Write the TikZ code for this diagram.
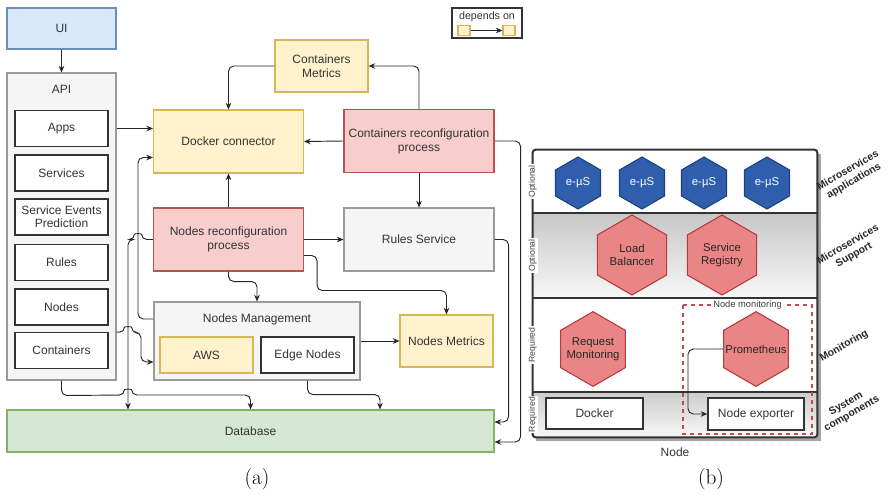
\documentclass[tikz,border=0pt]{standalone}
\usepackage{fontspec}
\usetikzlibrary{arrows.meta,calc,shapes.geometric}
\newfontfamily\diafont{Liberation Sans}
\definecolor{ylwfill}{HTML}{FFF2CC}
\definecolor{ylwdraw}{HTML}{D6B656}
\definecolor{redfill}{HTML}{F8CECC}
\definecolor{reddraw}{HTML}{B85450}
\definecolor{grayfill}{HTML}{F5F5F5}
\definecolor{graydraw}{HTML}{9A9A9A}
\definecolor{bluefill}{HTML}{DAE8FC}
\definecolor{bluedraw}{HTML}{6C8EBF}
\definecolor{grnfill}{HTML}{D5E8D4}
\definecolor{grndraw}{HTML}{82B366}
\definecolor{usfill}{HTML}{2F5EAD}
\definecolor{usdraw}{HTML}{1F417E}
\definecolor{hexrfill}{HTML}{E98585}
\definecolor{hexrdraw}{HTML}{B5393D}
\definecolor{frame}{HTML}{333333}
\begin{document}
\begin{tikzpicture}[
    x=0.75pt, y=-0.75pt,
    >={Stealth[length=5pt,width=4.2pt]},
    box/.style={
        rectangle,
        draw,
        line width=0.8pt,
        align=center,
        inner sep=2pt,
        text=black!80,
        font=\diafont\fontsize{9}{10.5}\selectfont
    },
    yellowbox/.style={box, draw=ylwdraw, fill=ylwfill},
    redbox/.style={box, draw=reddraw, fill=redfill},
    graybox/.style={box, draw=graydraw, fill=grayfill},
    itembox/.style={
        box,
        draw=black!80,
        fill=white,
        minimum width=69.75pt,
        minimum height=27pt
    },
    arrow/.style={
        ->,
        draw=black!85,
        line width=0.7pt,
        rounded corners=4pt
    },
    layer/.style={
        rectangle,
        inner sep=0pt,
        minimum width=213pt
    },
    hexagon/.style={
        regular polygon,
        regular polygon sides=6,
        shape border rotate=30,
        inner sep=0pt,
        line width=0.8pt
    },
    hexlbl/.style={
        align=center,
        inner sep=0pt,
        text=black!85,
        font=\diafont\fontsize{8.5}{10}\selectfont
    },
    usvc/.style={
        hexagon,
        draw=usdraw,
        fill=usfill,
        minimum size=39pt,
        label={[hexlbl, text=white]center:e-µS}
    },
    redhex/.style={hexagon, draw=hexrdraw, fill=hexrfill},
    sidelbl/.style={
        rotate=90,
        fill=white,
        inner sep=1pt,
        text=black!75,
        font=\diafont\fontsize{6.5}{7}\selectfont
    },
    layerlbl/.style={
        rotate=30,
        align=center,
        inner sep=0pt,
        text=black!85,
        font=\diafont\bfseries\fontsize{7.8}{8.8}\selectfont
    }
]
\useasboundingbox (0,0) rectangle (891,495);

% (a) client side
\node[box, draw=bluedraw, fill=bluefill, minimum width=81.75pt, minimum height=30.75pt] (ui) at (61.5,28.5) {UI};
\node[graybox, minimum width=81.75pt, minimum height=230.25pt] (api) at (61.5,226.5) {};
\node[box, draw=none] (apilbl) at (61.5,89) {API};
\node[itembox] (apps) at (61.5,128.5) {Apps};
\node[itembox] (services) at (61.5,173) {Services};
\node[itembox] (sep) at (61.5,217) {Service Events\\[-1pt]Prediction};
\node[itembox] (rules) at (61.5,262.5) {Rules};
\node[itembox] (nodes) at (61.5,307) {Nodes};
\node[itembox] (containers) at (61.5,350.5) {Containers};

% (a) processes
\node[yellowbox, minimum width=112.5pt, minimum height=47.25pt] (docker) at (228.5,141.5) {Docker connector};
\node[yellowbox, minimum width=69.75pt, minimum height=39pt] (cmetrics) at (321.5,66) {Containers\\Metrics};
\node[redbox, minimum width=112.5pt, minimum height=47.25pt] (crp) at (419,141) {Containers reconfiguration\\process};
\node[redbox, minimum width=112.5pt, minimum height=47.25pt] (nrp) at (228.5,239.5) {Nodes reconfiguration\\process};
\node[graybox, minimum width=112.5pt, minimum height=47.25pt] (rs) at (419,239.5) {Rules Service};
\node[graybox, minimum width=154.5pt, minimum height=58.5pt] (nm) at (257,341) {};
\node[box, draw=none] (nmlbl) at (257,319) {Nodes Management};
\node[yellowbox, minimum width=69.75pt, minimum height=27pt] (aws) at (206.5,355) {AWS};
\node[itembox] (edge) at (307.5,355) {Edge Nodes};
\node[yellowbox, minimum width=69.75pt, minimum height=39pt] (nmetrics) at (446.5,341) {Nodes Metrics};
\node[box, draw=grndraw, fill=grnfill, minimum width=365.25pt, minimum height=31.5pt] (db) at (250.5,431) {Database};

% legend
\node[box, draw=black!80, minimum width=52.5pt, minimum height=22.5pt] (legend) at (487,23) {};
\node[box, draw=none, inner sep=0pt, font=\diafont\fontsize{8}{9}\selectfont] (legtxt) at (487,16.5) {depends on};
\node[yellowbox, inner sep=0pt, minimum width=9pt, minimum height=7pt] (la) at (464,30.5) {};
\node[yellowbox, inner sep=0pt, minimum width=9pt, minimum height=7pt] (lb) at (509,30.5) {};
\draw[arrow] (la) -- (lb);

% bus lines
\coordinate (busa) at (128,0);
\coordinate (busb) at (138,0);

% (a) dependencies
\draw[arrow] (ui) -- (api);
\draw[arrow] (api.east |- apps) -- (docker.west |- apps);
\draw[arrow] (cmetrics.west) -| (docker.north);
\draw[arrow] (crp.north) |- (cmetrics.east);
\draw[arrow] (crp.west) -- (docker.east);
\draw[arrow] (crp.south) -- (rs.north);
\draw[arrow] (nrp.north) -- (docker.south);
\draw[arrow] (nrp.east) -- (rs.west);
\draw[arrow] ($(nrp.east)!0.5!(nrp.south east)$) -- ++(13,0) -- ++(0,35) -| (nmetrics.north);
\draw[arrow] (nrp.south) -- ++(0,10) -| (nm.north);
\draw[arrow] (nm.east) -- (nmetrics.west);
\draw[arrow] (nm.west |- nmlbl) -- (busb |- nmlbl) |- ($(docker.west)!0.5!(docker.south west)$);
\draw[arrow] (nrp.west) -- (141.5,239.5) .. controls (141.5,233.5) and (134.5,233.5) .. (134.5,239.5) -| (db.north -| busa);
\draw[arrow] (api.east |- containers.north) -- (124.5,332.5) .. controls (124.5,326.5) and (131.5,326.5) .. (131.5,332.5) -- (141,332.5) |- ($(nm.west |- aws)+(0,7)$);
\draw[arrow] (api.south) -- ++(0,15) -- (124.5,395) .. controls (124.5,389) and (131.5,389) .. (131.5,395) -| (db.north);
\draw[arrow] (edge |- nm.south) -- ++(0,14) -| ($(db.north)+(129.5,0)$);
\draw[arrow] (rs.east) -- ++(14,0) |- ($(db.east)+(0,-9)$);
\draw[arrow] (crp.east) -- ++(26,0) |- ($(db.east)+(0,11)$);

% (b) node layers
\fill[black!35] (536,154) rectangle (821,441);
\node[layer, fill=white, minimum height=47.25pt] (lay1) at (675,181.5) {};
\node[layer, top color=black!22, bottom color=black!3, minimum height=63.75pt] (lay2) at (675,255.5) {};
\node[layer, fill=white, minimum height=70.5pt] (lay3) at (675,345) {};
\node[layer, top color=black!20, bottom color=black!3, minimum height=33.75pt] (lay4) at (675,414.5) {};
\draw[frame, line width=1.5pt, rounded corners=2pt] (lay1.north west) rectangle (lay4.south east);
\draw[frame, line width=1.5pt] (lay1.south west) -- (lay1.south east);
\draw[frame, line width=1.5pt] (lay2.south west) -- (lay2.south east);
\draw[frame, line width=1.5pt] (lay3.south west) -- (lay3.south east);

% left tags
\node[sidelbl] (opt1) at (lay1.west) {Optional};
\node[sidelbl] (opt2) at (lay2.west) {Optional};
\node[sidelbl] (req3) at (lay3.west) {Required};
\node[sidelbl] (req4) at (lay4.west) {Required};

% microservices
\foreach \i/\x in {1/578,2/642,3/704,4/767}
    \node[usvc] (us\i) at (\x,183) {};
\node[redhex, minimum size=60pt, label={[hexlbl]center:Load\\Balancer}] (lbal) at (632,255) {};
\node[redhex, minimum size=60pt, label={[hexlbl]center:Service\\Registry}] (sreg) at (722,255) {};
\node[redhex, minimum size=56pt, label={[hexlbl]center:Request\\Monitoring}] (rmon) at (593,349) {};

% node monitoring
\draw[hexrdraw!90, dashed, line width=0.8pt] (683,305) rectangle (812,434);
\node[fill=white, inner sep=1pt, text=black!75, font=\diafont\fontsize{7}{8}\selectfont] (nmon) at (747.5,305) {Node monitoring};
\node[redhex, minimum size=56pt, label={[hexlbl]center:Prometheus}] (prom) at (756,349) {};
\node[box, draw=black!80, fill=white, line width=1pt, minimum width=72.75pt, minimum height=23.25pt] (dock) at (594.5,413.5) {Docker};
\node[box, draw=black!80, fill=white, line width=1pt, minimum width=72pt, minimum height=24pt] (nexp) at (756,414) {Node exporter};
\draw[arrow] ($(prom.center)+(-33,0)$) -- (688,349) |- (nexp.west);

% layer names
\node[layerlbl] (ln1) at (851,176) {Microservices\\applications};
\node[layerlbl] (ln2) at (851,250) {Microservices\\Support};
\node[layerlbl] (ln3) at (844,346) {Monitoring};
\node[layerlbl] (ln4) at (849,409) {System\\components};
\node[box, draw=none] (nodelbl) at (675,452) {Node};

% captions
\node[font=\fontsize{16}{18}\selectfont] (capa) at (257,479) {(a)};
\node[font=\fontsize{16}{18}\selectfont] (capb) at (711,479) {(b)};

\end{tikzpicture}
\end{document}
